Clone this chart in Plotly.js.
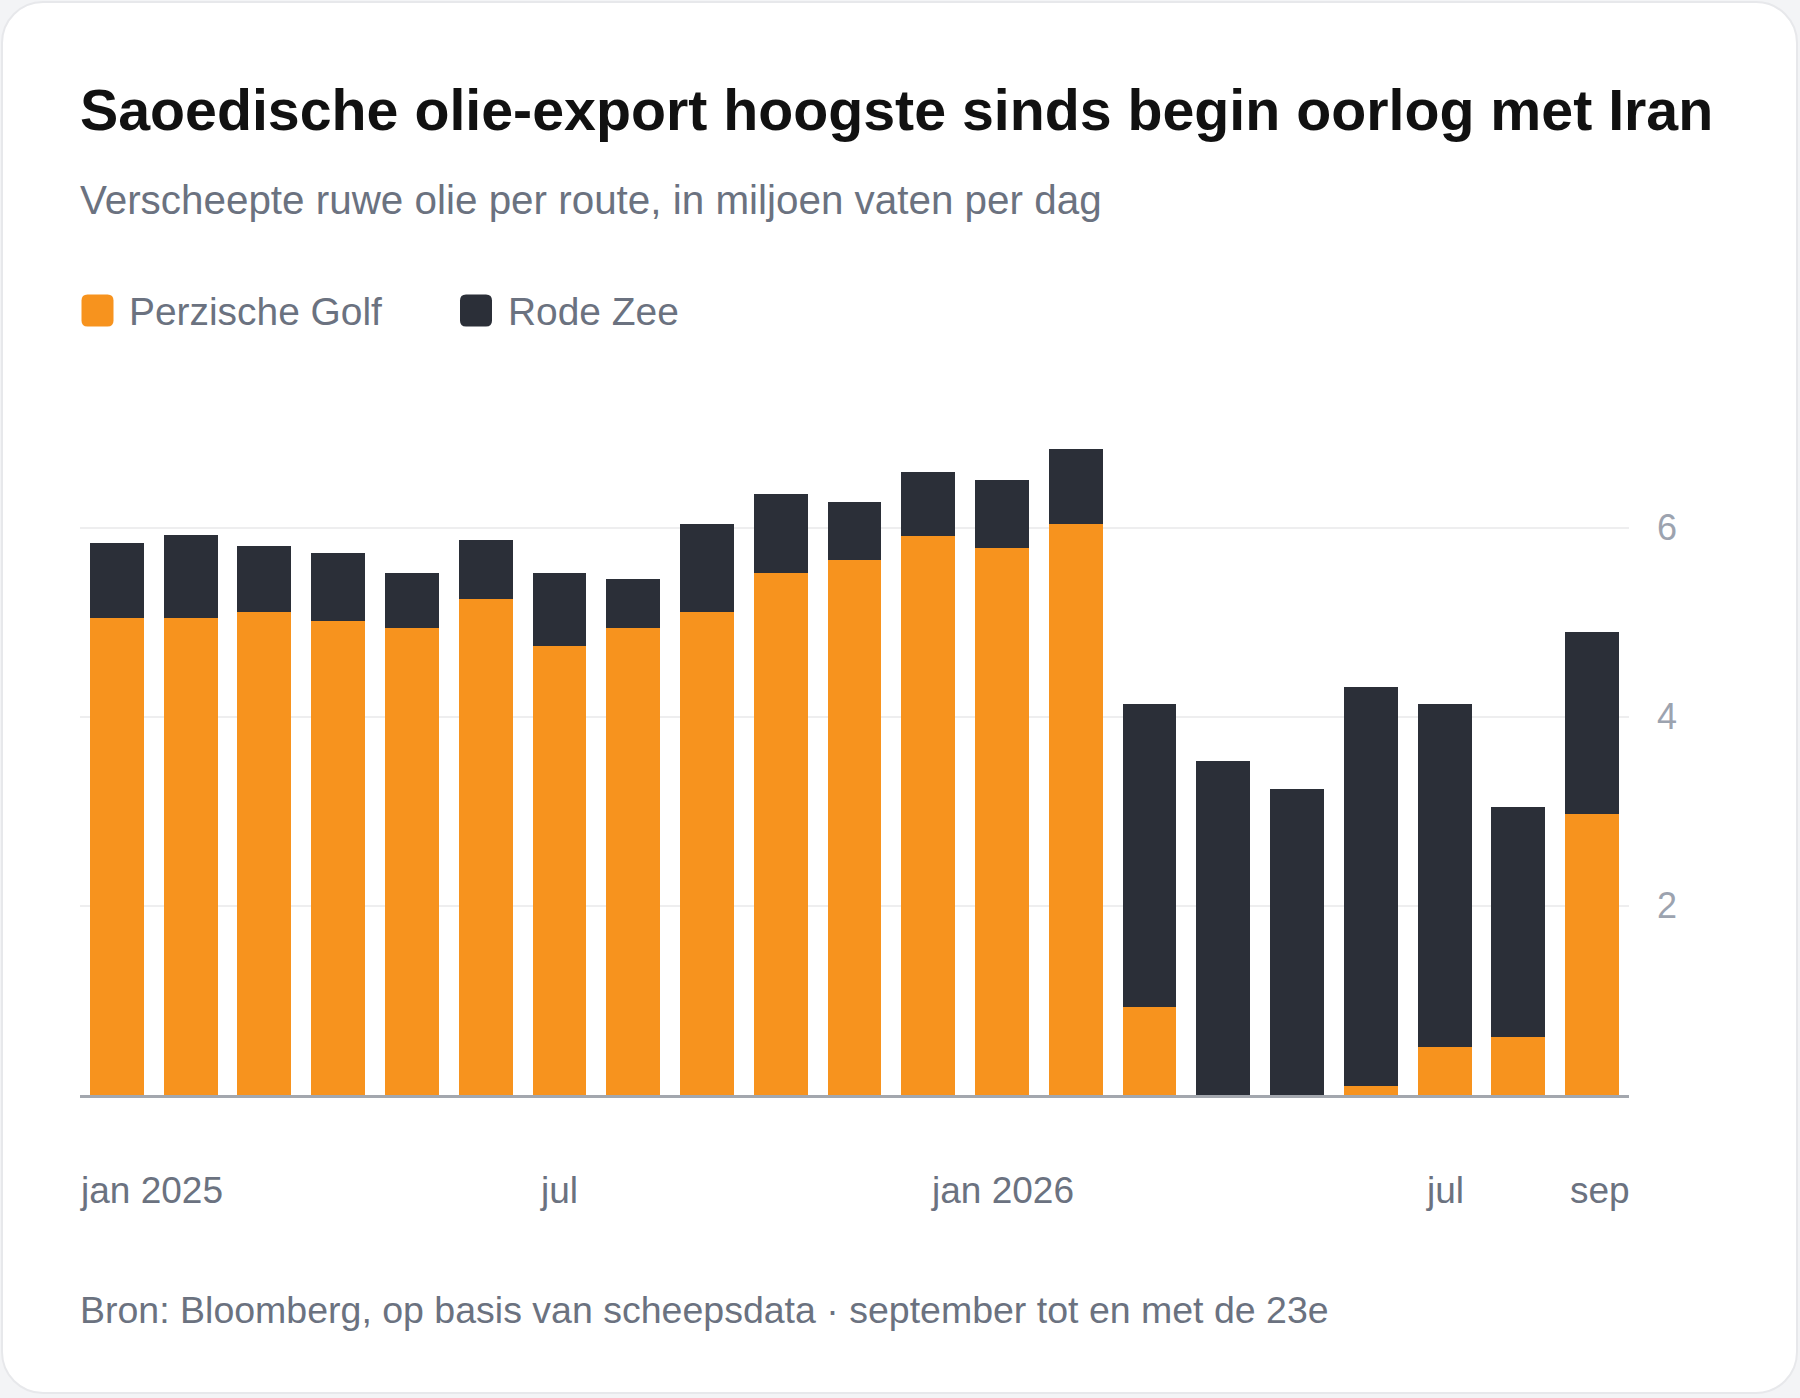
<!DOCTYPE html>
<html>
<head>
<meta charset="utf-8">
<script src="https://cdn.plot.ly/plotly-3.0.1.min.js"></script>
<style>
  html, body { margin: 0; padding: 0; background: #f3f4f6; }
  #card {
    position: absolute; left: 1px; top: 1px; width: 1797px; height: 1393px;
    box-sizing: border-box; background: #ffffff;
    border: 2px solid #e7e8eb; border-radius: 42px;
  }
  #plot { position: absolute; left: 0; top: 0; width: 1800px; height: 1398px; }
</style>
</head>
<body>
<div id="card"></div>
<div id="plot"></div>
<script>
// maanden jan 2025 t/m sep 2026
var months = ['2025-01','2025-02','2025-03','2025-04','2025-05','2025-06','2025-07','2025-08','2025-09','2025-10','2025-11','2025-12',
              '2026-01','2026-02','2026-03','2026-04','2026-05','2026-06','2026-07','2026-08','2026-09'];
// miljoen vaten per dag
var perzischeGolf = [5.04, 5.04, 5.11, 5.01, 4.94, 5.25, 4.75, 4.94, 5.11, 5.52, 5.66, 5.91,
                     5.78, 6.04, 0.93, 0.00, 0.00, 0.10, 0.51, 0.61, 2.97];
var rodeZee       = [0.80, 0.88, 0.70, 0.72, 0.58, 0.62, 0.77, 0.52, 0.93, 0.84, 0.61, 0.68,
                     0.72, 0.79, 3.21, 3.53, 3.24, 4.22, 3.63, 2.44, 1.93];

var tickMonths = ['2025-01', '2025-07', '2026-01', '2026-07', '2026-09'];
var tickLabels = ['jan 2025', 'jul', 'jan 2026', 'jul', 'sep'];
var yTicks = [2, 4, 6];

var seriesNames = ['Perzische Golf', 'Rode Zee'];
var seriesColors = ['#f7931e', '#2b2f38'];

var W = 1800, H = 1398;
var M = {l: 80, r: 171, t: 400, b: 303};
var FONT = '"Liberation Sans", Arial, sans-serif';

// pixel -> paper helpers for the text around the plot
function px(x) { return (x - M.l) / (W - M.l - M.r); }
function py(y) { return (H - M.b - y) / (H - M.t - M.b); }

var traces = [
  {type: 'bar', name: seriesNames[0], x: months, y: perzischeGolf,
   marker: {color: seriesColors[0], line: {width: 0}}, hoverinfo: 'y'},
  {type: 'bar', name: seriesNames[1], x: months, y: rodeZee,
   marker: {color: seriesColors[1], line: {width: 0}}, hoverinfo: 'y'}
];

var annotations = [];
var shapes = [];

// x-as labels: eerste en laatste tegen de rand van het plotvlak
tickMonths.forEach(function(m, i) {
  var a = {text: tickLabels[i], yref: 'paper', y: py(1190), yanchor: 'middle', showarrow: false,
           font: {family: FONT, size: 37, color: '#6b7280'}};
  if (i === 0) { a.xref = 'paper'; a.x = 0; a.xanchor = 'left'; a.xshift = -2; }
  else if (i === tickMonths.length - 1) { a.xref = 'paper'; a.x = 1; a.xanchor = 'right'; a.xshift = 3; }
  else { a.xref = 'x'; a.x = m; a.xanchor = 'center'; }
  annotations.push(a);
});

// ondertitel
annotations.push({xref: 'paper', yref: 'paper', x: px(80), y: py(200), xanchor: 'left', yanchor: 'middle',
  xshift: -2, showarrow: false, text: 'Verscheepte ruwe olie per route, in miljoen vaten per dag',
  font: {family: FONT, size: 40.4, color: '#6b7280'}});

// bron
annotations.push({xref: 'paper', yref: 'paper', x: px(80), y: py(1310), xanchor: 'left', yanchor: 'middle',
  xshift: -2, showarrow: false, text: 'Bron: Bloomberg, op basis van scheepsdata · september tot en met de 23e',
  font: {family: FONT, size: 37.5, color: '#6b7280'}});

// legenda met afgeronde vierkantjes
var legendX = [97.5, 476];
var legendTextX = [127, 506];
function roundSquare(s, r) {
  var h = s / 2;
  return 'M' + (-h + r) + ',' + (-h) + ' L' + (h - r) + ',' + (-h) + ' Q' + h + ',' + (-h) + ' ' + h + ',' + (-h + r) +
         ' L' + h + ',' + (h - r) + ' Q' + h + ',' + h + ' ' + (h - r) + ',' + h +
         ' L' + (-h + r) + ',' + h + ' Q' + (-h) + ',' + h + ' ' + (-h) + ',' + (h - r) +
         ' L' + (-h) + ',' + (-h + r) + ' Q' + (-h) + ',' + (-h) + ' ' + (-h + r) + ',' + (-h) + ' Z';
}
seriesNames.forEach(function(name, i) {
  shapes.push({type: 'path', xref: 'paper', yref: 'paper', xsizemode: 'pixel', ysizemode: 'pixel',
    xanchor: px(legendX[i]), yanchor: py(310.5), path: roundSquare(32, 6),
    fillcolor: seriesColors[i], line: {width: 0}});
  annotations.push({xref: 'paper', yref: 'paper', x: px(legendTextX[i]), y: py(311), xanchor: 'left', yanchor: 'middle',
    showarrow: false, text: name, font: {family: FONT, size: 38.9, color: '#6b7280'}});
});

var layout = {
  width: W, height: H,
  margin: M,
  paper_bgcolor: 'rgba(0,0,0,0)',
  plot_bgcolor: 'rgba(0,0,0,0)',
  barmode: 'stack',
  bargap: 0.27,
  showlegend: false,
  font: {family: FONT},
  title: {
    text: 'Saoedische olie-export hoogste sinds begin oorlog met Iran',
    xref: 'container', yref: 'container', x: 80 / W, y: 1 - 110 / H,
    xanchor: 'left', yanchor: 'middle',
    font: {family: FONT, size: 57.3, weight: 'bold', color: '#111111'}
  },
  xaxis: {
    type: 'category',
    showticklabels: false,
    showgrid: false,
    showline: true, linecolor: '#a3a7ae', linewidth: 3,
    ticks: '', fixedrange: true
  },
  yaxis: {
    side: 'right',
    range: [0, 7.35],
    tickvals: yTicks,
    ticktext: yTicks.map(String),
    showgrid: true, gridcolor: '#eeeeef', gridwidth: 2,
    zeroline: false, showline: false, ticks: '',
    ticklabelstandoff: 27,
    tickfont: {family: FONT, size: 36, color: '#9ca3af'},
    fixedrange: true
  },
  annotations: annotations,
  shapes: shapes
};

Plotly.newPlot('plot', traces, layout, {displayModeBar: false, staticPlot: true});
</script>
</body>
</html>
